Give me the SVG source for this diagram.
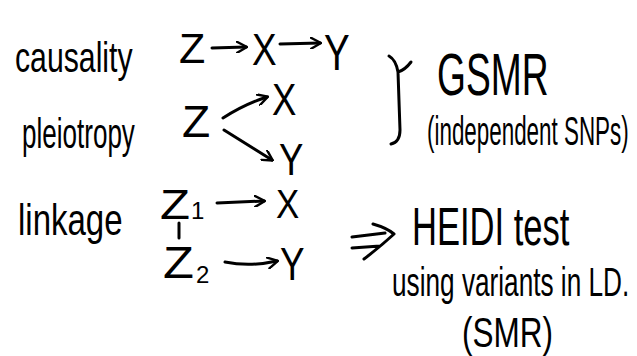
<svg xmlns="http://www.w3.org/2000/svg" width="637" height="356" viewBox="0 0 637 356">
<style>
text{font-family:"Liberation Sans","DejaVu Sans",sans-serif;fill:#000;}
.ln{fill:none;stroke:#000;stroke-width:3;stroke-linecap:round;stroke-linejoin:round;}
</style>
<defs>
<marker id="ah" viewBox="0 0 12 12" refX="10" refY="6" markerWidth="12" markerHeight="12" markerUnits="userSpaceOnUse" orient="auto">
<path d="M1,0.5 L11,6 L1,11.5" fill="none" stroke="#000" stroke-width="2.4" stroke-linecap="round" stroke-linejoin="round"/>
</marker>
</defs>
<rect width="637" height="356" fill="#fff"/>
<g id="label-causality"><text transform="translate(15,72) scale(0.72,1)" font-size="42">causality</text></g>
<g id="label-pleiotropy"><text transform="translate(22,148) scale(0.62,1)" font-size="42">pleiotropy</text></g>
<g id="label-linkage"><text transform="translate(18,235) scale(0.75,1)" font-size="44">linkage</text></g>

<g id="c-Z"><text transform="translate(179,63) scale(1,1)" font-size="43">Z</text></g>
<g id="c-X"><text transform="translate(252,65) scale(0.82,1)" font-size="45">X</text></g>
<g id="c-Y"><text transform="translate(324,70) scale(0.77,1)" font-size="50">Y</text></g>

<g id="p-Z"><text transform="translate(182,137) scale(1.05,1)" font-size="44">Z</text></g>
<g id="p-X"><text transform="translate(272,115) scale(0.83,1)" font-size="44">X</text></g>
<g id="p-Y"><text transform="translate(279,175) scale(0.83,1)" font-size="44">Y</text></g>

<g id="l-Z1"><text transform="translate(160,219) scale(1.17,1)" font-size="42">Z</text><text x="191" y="219" font-size="24">1</text></g>
<g id="l-X"><text transform="translate(276,218) scale(0.87,1)" font-size="40">X</text></g>
<g id="l-Z2"><text transform="translate(163,278) scale(1.15,1)" font-size="44">Z</text><text x="196" y="283" font-size="24">2</text></g>
<g id="l-Y"><text transform="translate(280,280) scale(0.8,1)" font-size="46">Y</text></g>

<g id="gsmr"><text transform="translate(437,95) scale(0.62,1)" font-size="60">GSMR</text>
<text transform="translate(427,145) scale(0.56,1)" font-size="40">(independent SNPs)</text></g>

<g id="heidi"><text transform="translate(412,245) scale(0.64,1)" font-size="54">HEIDI test</text>
<text transform="translate(392,296) scale(0.655,1)" font-size="40">using variants in LD.</text>
<text transform="translate(462,347) scale(0.75,1)" font-size="42">(SMR)</text></g>

<g id="connectors">
<path class="ln" d="M212,48 L246,47" marker-end="url(#ah)"/>
<path class="ln" d="M280,44 L320,43" marker-end="url(#ah)"/>
<path class="ln" d="M223,118 Q245,104 267,97" marker-end="url(#ah)"/>
<path class="ln" d="M224,130 L272,160" marker-end="url(#ah)"/>
<path class="ln" d="M217,203 L264,201" marker-end="url(#ah)"/>
<path class="ln" d="M225,262 Q250,267 277,261" marker-end="url(#ah)"/>
<path class="ln" d="M179,223 L179,238"/>
<path class="ln" d="M389,56 Q396,60 398,72 Q405,70 411,62 M398,72 L400,130 Q400,142 391,144"/>
<path class="ln" d="M352,237 L385,233 M352,248 L380,246 M373,224 Q387,228 394,234 Q381,246 364,259"/>
</g>
</svg>
